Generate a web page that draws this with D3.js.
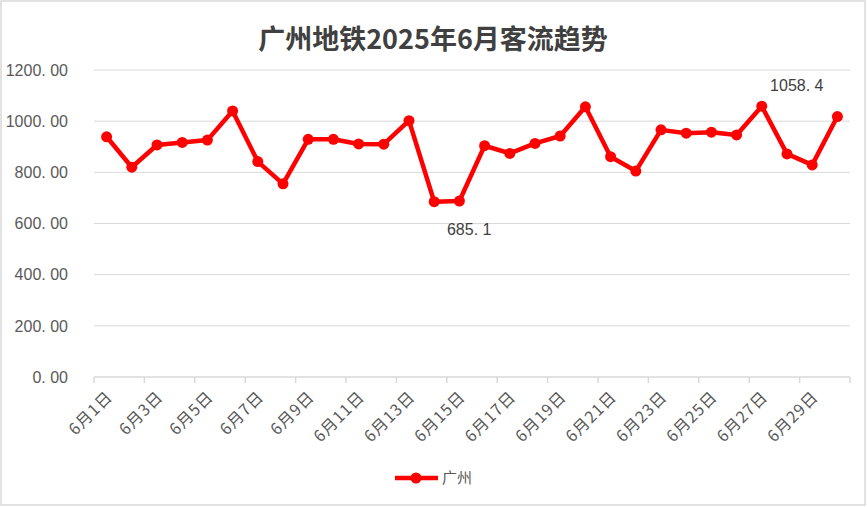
<!DOCTYPE html>
<html><head><meta charset="utf-8">
<script src="https://cdn.jsdelivr.net/npm/d3@7"></script>
<style>html,body{margin:0;padding:0;background:#fff}</style>
</head><body>
<svg id="c" width="867" height="507"></svg>
<script>
const title = "广州地铁2025年6月客流趋势";
const seriesName = "广州";
const days = d3.range(1, 31).map(d => `6月${d}日`);
const values = [939, 820, 907, 917, 926, 1040, 842, 755, 929, 929,
                911, 910, 1002, 685.1, 688, 904, 874, 913, 942, 1056,
                861, 805, 966, 953, 957, 946, 1058.4, 872, 829, 1018];
const yTicks = [0, 200, 400, 600, 800, 1000, 1200];
const labeled = [{i: 13, text: "685.1", pos: "below"}, {i: 26, text: "1058.4", pos: "above"}];

const svg = d3.select("#c");
const W = 867, H = 507;

svg.append("rect").attr("x", 1).attr("y", 1).attr("width", W - 3).attr("height", H - 3)
  .attr("fill", "#fff").attr("stroke", "#d9d9d9").attr("stroke-width", 1.5);

svg.append("text").attr("x", 433).attr("y", 49).attr("text-anchor", "middle")
  .attr("font-family", "Noto Sans CJK SC").attr("font-weight", "bold").attr("font-size", 27)
  .attr("fill", "#404040").text(title);

const x = d3.scaleBand().domain(days).range([94, 850]).padding(0);
const y = d3.scaleLinear().domain([0, 1200]).range([377, 70]);

// grid
svg.append("g").selectAll("line").data(yTicks.filter(v => v > 0)).join("line")
  .attr("x1", 94).attr("x2", 850).attr("y1", d => y(d)).attr("y2", d => y(d))
  .attr("stroke", "#d9d9d9").attr("stroke-width", 1);

// y labels
svg.append("g").selectAll("text").data(yTicks).join("text")
  .attr("x", 68).attr("y", d => y(d)).attr("dy", "0.36em").attr("text-anchor", "end")
  .attr("font-family", "Liberation Sans, Arial").attr("font-size", 16).attr("fill", "#595959")
  .text(d => d3.format(".2f")(d).replace(".", ". "));

// x axis
const xa = svg.append("g");
xa.append("line").attr("x1", 94).attr("x2", 850).attr("y1", 377).attr("y2", 377)
  .attr("stroke", "#d9d9d9").attr("stroke-width", 1.5);
const tickPos = d3.range(0, days.length + 1, 2).map(i => 94 + i * x.step());
xa.selectAll("line.t").data(tickPos).join("line").attr("class", "t")
  .attr("x1", d => d).attr("x2", d => d).attr("y1", 377).attr("y2", 383)
  .attr("stroke", "#d9d9d9").attr("stroke-width", 1.5);
xa.selectAll("text").data(days.filter((d, i) => i % 2 === 0)).join("text")
  .attr("transform", d => `translate(${x(d) + x.bandwidth() / 2 + 3},${394}) rotate(-45)`)
  .attr("text-anchor", "end").attr("dy", "0.35em").attr("letter-spacing", 1)
  .attr("font-family", "Noto Sans CJK SC").attr("font-size", 16).attr("fill", "#595959")
  .text(d => d);

// line
const cx = (d, i) => x(days[i]) + x.bandwidth() / 2;
const line = d3.line().x((d, i) => cx(d, i)).y(d => y(d));
svg.append("path").datum(values).attr("d", line).attr("fill", "none")
  .attr("stroke", "#ff0000").attr("stroke-width", 4.5).attr("stroke-linejoin", "round");
svg.append("g").selectAll("circle").data(values).join("circle")
  .attr("cx", (d, i) => cx(d, i)).attr("cy", d => y(d)).attr("r", 5.5).attr("fill", "#ff0000");

// data labels
svg.append("g").selectAll("text").data(labeled).join("text")
  .attr("x", d => cx(values[d.i], d.i) + 35)
  .attr("y", d => d.pos === "below" ? y(values[d.i]) + 33 : y(values[d.i]) - 15)
  .attr("text-anchor", "middle")
  .attr("font-family", "Liberation Sans, Arial").attr("font-size", 16).attr("fill", "#404040")
  .text(d => d.text.replace(".", ". "));

// legend
const lg = svg.append("g");
lg.append("line").attr("x1", 395).attr("x2", 438).attr("y1", 478).attr("y2", 478)
  .attr("stroke", "#ff0000").attr("stroke-width", 4.5);
lg.append("circle").attr("cx", 416).attr("cy", 478).attr("r", 5.5).attr("fill", "#ff0000");
lg.append("text").attr("x", 442).attr("y", 478).attr("dy", "0.35em")
  .attr("font-family", "Noto Sans CJK SC").attr("font-size", 15).attr("fill", "#595959").text(seriesName);
</script>
</body></html>
